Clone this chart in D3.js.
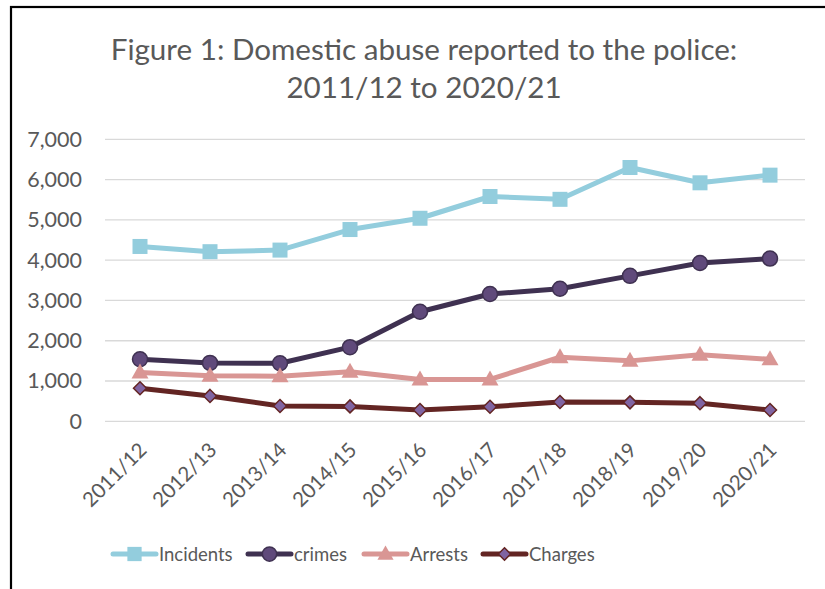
<!DOCTYPE html>
<html>
<head>
<meta charset="utf-8">
<script src="https://cdn.jsdelivr.net/npm/d3@7"></script>
<style>
  html, body { margin: 0; padding: 0; background: #fff; }
  svg { display: block; font-family: Lato, "Open Sans", sans-serif; }
</style>
</head>
<body>
<svg id="chart" width="825" height="589"></svg>
<script>
// Financial years on the x axis
const years = ["2011/12", "2012/13", "2013/14", "2014/15", "2015/16",
               "2016/17", "2017/18", "2018/19", "2019/20", "2020/21"];

// Counts per year
const incidents = [4340, 4210, 4250, 4760, 5040, 5580, 5510, 6300, 5920, 6110];
const crimes    = [1540, 1450, 1440, 1840, 2720, 3160, 3290, 3610, 3930, 4040];
const arrests   = [1210, 1130, 1120, 1230, 1040, 1040, 1590, 1500, 1650, 1540];
const charges   = [820, 630, 380, 370, 280, 360, 480, 470, 450, 280];

const yTicks = [0, 1000, 2000, 3000, 4000, 5000, 6000, 7000];
const titleLines = ["Figure 1: Domestic abuse reported to the police:", "2011/12 to 2020/21"];

const series = [
  { name: "Incidents", values: incidents, line: "#93CDDD", fill: "#93CDDD", stroke: "#93CDDD", shape: "square" },
  { name: "crimes",    values: crimes,    line: "#3F3151", fill: "#604A7B", stroke: "#3F3151", shape: "circle" },
  { name: "Arrests",   values: arrests,   line: "#D99694", fill: "#D99694", stroke: "#D99694", shape: "triangle" },
  { name: "Charges",   values: charges,   line: "#632523", fill: "#8064A2", stroke: "#632523", shape: "diamond" }
];

const svg = d3.select("#chart");
const textColor = "#595959";

// Outer frame (top and left edges visible)
svg.append("rect")
  .attr("x", 11).attr("y", 7)
  .attr("width", 900).attr("height", 700)
  .attr("fill", "none").attr("stroke", "#000").attr("stroke-width", 2.2);

const plot = { left: 105, right: 805, top: 139.3, bottom: 421.3 };

const x = d3.scaleBand().domain(years).range([plot.left, plot.right]);
const y = d3.scaleLinear().domain([0, 7000]).range([plot.bottom, plot.top]);

// Title
const title = svg.append("text")
  .attr("text-anchor", "middle")
  .attr("fill", textColor)
  .attr("font-size", 29.6);
title.selectAll("tspan").data(titleLines).join("tspan")
  .attr("x", 424)
  .attr("y", (d, i) => 60 + i * 38)
  .text(d => d);

// Gridlines
svg.append("g").selectAll("line").data(yTicks).join("line")
  .attr("x1", plot.left).attr("x2", plot.right)
  .attr("y1", d => y(d)).attr("y2", d => y(d))
  .attr("stroke", "#D9D9D9").attr("stroke-width", 1.3);

// Y axis labels
const yAxis = svg.append("g")
  .attr("transform", `translate(${plot.left - 23},0)`)
  .call(d3.axisLeft(y).tickValues(yTicks).tickSize(0).tickPadding(0)
    .tickFormat(d3.format(",")));
yAxis.select(".domain").remove();
yAxis.selectAll("text")
  .attr("fill", textColor)
  .attr("font-size", 21.5)
  .attr("font-family", "Lato, 'Open Sans', sans-serif");

// X axis labels, rotated
const xAxis = svg.append("g")
  .attr("transform", `translate(0,${plot.bottom})`)
  .call(d3.axisBottom(x).tickSize(0).tickPadding(0));
xAxis.select(".domain").remove();
xAxis.selectAll("text")
  .attr("fill", textColor)
  .attr("font-size", 20.5)
  .attr("font-family", "Lato, 'Open Sans', sans-serif")
  .attr("text-anchor", "end")
  .attr("dy", null)
  .attr("transform", "translate(8,30) rotate(-45)");

// Marker symbols
function marker(sel, s, size) {
  const k = size || 1;
  if (s.shape === "square") {
    sel.append("rect").attr("x", -7.5 * k).attr("y", -7.5 * k)
      .attr("width", 15 * k).attr("height", 15 * k)
      .attr("fill", s.fill);
  } else if (s.shape === "circle") {
    sel.append("circle").attr("r", 7.5 * k)
      .attr("fill", s.fill).attr("stroke", s.stroke).attr("stroke-width", 1.5);
  } else if (s.shape === "triangle") {
    sel.append("path").attr("d", `M0,${-9 * k} L${8.5 * k},${6 * k} L${-8.5 * k},${6 * k} Z`)
      .attr("fill", s.fill);
  } else {
    sel.append("path").attr("d", `M0,${-6.5 * k} L${6.5 * k},0 L0,${6.5 * k} L${-6.5 * k},0 Z`)
      .attr("fill", s.fill).attr("stroke", s.stroke).attr("stroke-width", 1.5);
  }
}

const cx = d => x(d) + x.bandwidth() / 2;
const line = d3.line().x((d, i) => cx(years[i])).y(d => y(d));

series.forEach(s => {
  const g = svg.append("g");
  g.append("path")
    .datum(s.values)
    .attr("d", line)
    .attr("fill", "none")
    .attr("stroke", s.line)
    .attr("stroke-width", 5)
    .attr("stroke-linejoin", "round");
  s.values.forEach((v, i) => {
    const m = g.append("g").attr("transform", `translate(${cx(years[i])},${y(v)})`);
    marker(m, s);
  });
});

// Legend
const legendItems = [
  { x0: 113, s: series[0] },
  { x0: 248, s: series[1] },
  { x0: 364, s: series[2] },
  { x0: 483, s: series[3] }
];
const ly = 554;
legendItems.forEach(({ x0, s }) => {
  const g = svg.append("g");
  g.append("line")
    .attr("x1", x0).attr("x2", x0 + 43)
    .attr("y1", ly).attr("y2", ly)
    .attr("stroke", s.line).attr("stroke-width", 5).attr("stroke-linecap", "round");
  const m = g.append("g").attr("transform", `translate(${x0 + 21.5},${ly})`);
  marker(m, s, 0.95);
  g.append("text")
    .attr("x", x0 + 46).attr("y", ly + 7)
    .attr("fill", textColor)
    .attr("font-size", 18.5)
    .text(s.name);
});
</script>
</body>
</html>
